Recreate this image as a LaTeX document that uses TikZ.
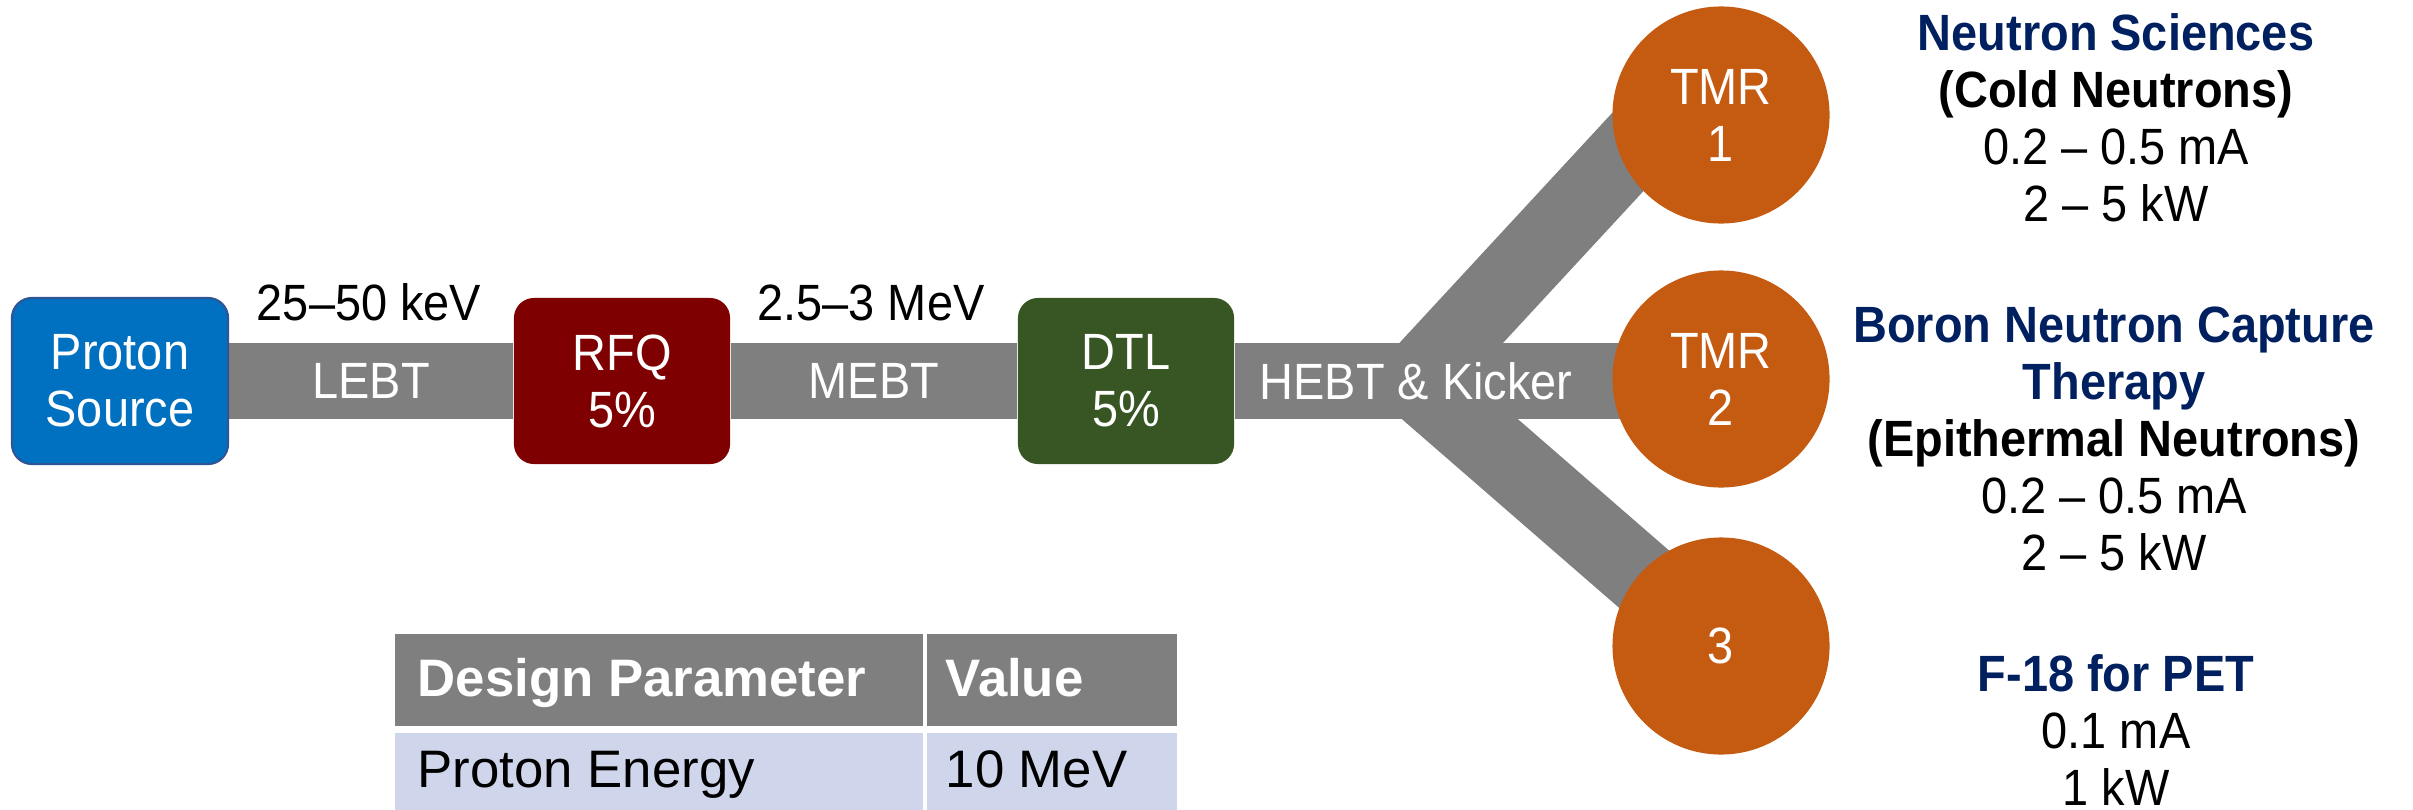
\documentclass[tikz,border=0pt]{standalone}
\usepackage{fontspec}
\setmainfont[FakeStretch=0.92]{Liberation Sans}
\newfontfamily\tablefont{Liberation Sans}
\usetikzlibrary{backgrounds}

\definecolor{beamgray}{HTML}{7F7F7F}
\definecolor{srcblue}{HTML}{0070C0}
\definecolor{srcline}{HTML}{2F5597}
\definecolor{rfqred}{HTML}{7F0000}
\definecolor{dtlgreen}{HTML}{375623}
\definecolor{tmrorange}{HTML}{C55A11}
\definecolor{usenavy}{HTML}{002060}
\definecolor{rowblue}{HTML}{CFD5EA}

\tikzset{
	stage/.style = {rounded corners=0.2cm, minimum width=2.16cm, minimum height=1.66cm, inner sep=0pt, align=center, text=white},
	beam/.style = {draw=beamgray, line width=0.76cm},
	beamlabel/.style = {text=white, inner sep=0pt},
	tmr/.style = {circle, fill=tmrorange, minimum size=2.17cm, inner sep=0pt, align=center, text=white},
	usage/.style = {align=center, anchor=base, inner sep=0pt},
	headcell/.style = {font=\tablefont\fontsize{15}{18}\selectfont\bfseries, text=white, anchor=base west, inner sep=0pt},
	cell/.style = {font=\tablefont\fontsize{15}{18}\selectfont, anchor=base west, inner sep=0pt}
}

\begin{document}
\begin{tikzpicture}[x=0.01cm, y=-0.01cm, font=\fontsize{14.5}{16.2}\selectfont]
		\useasboundingbox (0,0) rectangle (2413,809);

		\node[stage, fill=srcblue, draw=srcline, line width=0.6pt] (src) at (120,381) {Proton\\Source};
		\node[stage, fill=rfqred] (rfq) at (622,381) {RFQ\\5\%};
		\node[stage, fill=dtlgreen] (dtl) at (1126,381) {DTL\\5\%};

		\node[tmr] (tmr1) at (1721,115) {TMR\\1};
		\node[tmr] (tmr2) at (1721,379) {TMR\\2};
		\node[tmr] (tmr3) at (1721,646) {3};

		\coordinate (fork) at (1416,381);
		\coordinate (feed1) at (1662,115);

		\begin{scope}[on background layer]
		\draw[beam] (src) -- (rfq);
		\draw[beam] (rfq) -- (dtl);
		\draw[beam] (dtl) -- (dtl -| tmr2);
		\draw[beam] (fork) -- (feed1);
		\draw[beam] (fork) -- (tmr3.center);
		\end{scope}

		\path (src) -- node[beamlabel] (lebt) {LEBT} (rfq);
		\path (rfq) -- node[beamlabel] (mebt) {MEBT} (dtl);
		\node[beamlabel] (hebt) at (fork) {HEBT \& Kicker};

		\node[anchor=base] (lebtE) at (369,320) {25–50 keV};
		\node[anchor=base] (mebtE) at (871,320) {2.5–3 MeV};

		\node[usage] (use1) at (2116,221) {{\color{usenavy}\bfseries Neutron Sciences}\\{\bfseries (Cold Neutrons)}\\0.2 – 0.5 mA\\2 – 5 kW};
		\node[usage] (use2) at (2114,570) {{\color{usenavy}\bfseries Boron Neutron Capture}\\{\color{usenavy}\bfseries Therapy}\\{\bfseries (Epithermal Neutrons)}\\0.2 – 0.5 mA\\2 – 5 kW};
		\node[usage] (use3) at (2116,805) {{\color{usenavy}\bfseries F-18 for PET}\\0.1 mA\\1 kW};

		\fill[beamgray] (395,634) rectangle (923,726);
		\fill[beamgray] (927,634) rectangle (1177,726);
		\fill[rowblue] (395,733) rectangle (923,830);
		\fill[rowblue] (927,733) rectangle (1177,830);
		\node[headcell] (parHead) at (417,696) {Design Parameter};
		\node[headcell] (valHead) at (945,696) {Value};
		\node[cell] (parEnergy) at (417,787) {Proton Energy};
		\node[cell] (valEnergy) at (945,787) {10 MeV};
		\end{tikzpicture}
\end{document}
